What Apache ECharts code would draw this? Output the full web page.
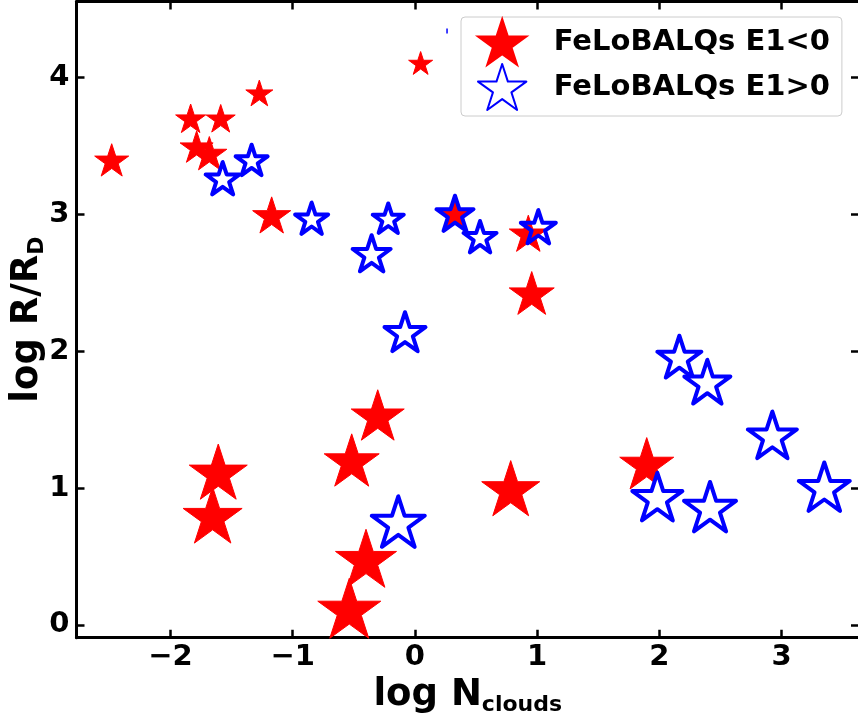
<!DOCTYPE html>
<html>
<head>
<meta charset="utf-8">
<script src="https://cdn.jsdelivr.net/npm/echarts@6/dist/echarts.min.js"></script>
<style>
html,body{margin:0;padding:0;background:#fff;}
#chart{width:858px;height:716px;}
</style>
</head>
<body>
<div id="chart"></div>
<script>
// ---- data ----
const redX = [-2.481, -1.835, -1.589, -1.273, 0.047, -1.786, -1.682, -1.172, 0.328, 0.928, 0.956, -1.609, -1.655, -0.517, -0.304, -0.400, -0.537, 0.784, 1.897];
const redY = [3.397, 3.701, 3.701, 3.886, 4.105, 3.494, 3.446, 2.995, 3.007, 2.861, 2.425, 1.120, 0.803, 1.205, 1.534, 0.487, 0.122, 0.999, 1.181];
const redMarkerWidth = [35, 31, 30, 28, 25, 34, 36, 39, 37, 39, 46, 59, 60, 56, 54, 62, 64, 59, 55];

const blueX = [-1.573, -1.336, -0.845, -0.218, -0.354, -0.081, 0.328, 0.533, 1.010, 2.164, 2.393, 2.925, 1.984, 2.415, 3.350, -0.136];
const blueY = [3.263, 3.397, 2.971, 2.971, 2.715, 2.142, 3.007, 2.836, 2.909, 1.960, 1.777, 1.388, 0.937, 0.864, 1.010, 0.755];
const blueMarkerWidth = [38, 36, 37, 35, 42, 45, 41, 37, 39, 48, 50, 53, 54, 56, 55, 57];
const blueOpenIdx = [6, 8];          // points drawn without white fill
const tinyBlueX = [0.263];
const tinyBlueY = [4.339];

const xTicks = [-2, -1, 0, 1, 2, 3];
const yTicks = [0, 1, 2, 3, 4];
const seriesNames = ['FeLoBALQs E1<0', 'FeLoBALQs E1>0'];

// ---- style ----
const STAR = 'path://M0,-100 L-22.45,-30.9 L-95.11,-30.9 L-36.33,11.8 L-58.78,80.9 L0,38.2 L58.78,80.9 L36.33,11.8 L95.11,-30.9 L22.45,-30.9 Z';
const FONT = 'DejaVu Sans';
const fmt = v => (v < 0 ? '\u2212' + Math.abs(v) : String(v));

const X_MIN = -2.769, X_MAX = 3.634, Y_MIN = -0.093, Y_MAX = 4.554;

const redData = redX.map((x, i) => ({ value: [x, redY[i]], symbolSize: redMarkerWidth[i] - 1 }));
const blueData = blueX.map((x, i) => {
  const d = { value: [x, blueY[i]], symbolSize: blueMarkerWidth[i] - 4 };
  if (blueOpenIdx.includes(i)) d.itemStyle = { color: 'rgba(0,0,0,0)' };
  return d;
});
tinyBlueX.forEach((x, i) => blueData.push({
  value: [x, tinyBlueY[i]], symbol: 'rect', symbolSize: [1.5, 5],
  itemStyle: { color: '#0000ff', borderWidth: 0 }
}));

const axisCommon = {
  axisLine: { show: true, onZero: false, lineStyle: { color: '#000', width: 3 } },
  axisTick: { show: true, inside: true, length: 8, lineStyle: { color: '#000', width: 2.5 } },
  splitLine: { show: false }
};
const titleRich = {
  a: { fontFamily: FONT, fontSize: 37, fontWeight: 'bold', color: '#000', verticalAlign: 'bottom', padding: [0, 0, 3, 0] },
  b: { fontFamily: FONT, fontSize: 22, fontWeight: 'bold', color: '#000', verticalAlign: 'bottom' }
};

const chart = echarts.init(document.getElementById('chart'), null, { renderer: 'canvas' });
chart.setOption({
  animation: false,
  backgroundColor: '#fff',
  grid: { left: 76.5, right: -1, top: 1.5, bottom: 78.3, containLabel: false, outerBoundsMode: 'none' },
  legend: {
    left: 461, top: 17,
    orient: 'vertical',
    data: seriesNames,
    itemWidth: 49, itemHeight: 46, itemGap: -3,
    symbolKeepAspect: true,
    padding: [1, 12, 5, 16],
    backgroundColor: 'rgba(255,255,255,0.8)',
    borderColor: '#cccccc', borderWidth: 1, borderRadius: 4,
    textStyle: { fontFamily: FONT, fontSize: 29, fontWeight: 'bold', color: '#000', padding: [0, 0, 0, 22] }
  },
  xAxis: [
    Object.assign({}, axisCommon, {
      type: 'value', position: 'bottom', min: X_MIN, max: X_MAX,
      axisTick: Object.assign({}, axisCommon.axisTick, { customValues: xTicks }),
      axisLabel: { show: true, customValues: xTicks, formatter: fmt, margin: 5,
        fontFamily: FONT, fontSize: 29, fontWeight: 'bold', color: '#000' },
      name: '{a|log N}{b|clouds}', nameLocation: 'middle', nameGap: 35,
      nameTextStyle: { fontFamily: FONT, color: '#000', rich: titleRich }
    }),
    Object.assign({}, axisCommon, {
      type: 'value', position: 'top', min: X_MIN, max: X_MAX,
      axisTick: Object.assign({}, axisCommon.axisTick, { customValues: xTicks }),
      axisLabel: { show: false }
    })
  ],
  yAxis: [
    Object.assign({}, axisCommon, {
      type: 'value', position: 'left', min: Y_MIN, max: Y_MAX,
      axisTick: Object.assign({}, axisCommon.axisTick, { customValues: yTicks }),
      axisLabel: { show: true, customValues: yTicks, formatter: fmt, margin: 7,
        fontFamily: FONT, fontSize: 29, fontWeight: 'bold', color: '#000' },
      name: '{a|log R/R}{b|D}', nameLocation: 'middle', nameGap: 28, nameMoveOverlap: false,
      nameTextStyle: { fontFamily: FONT, color: '#000', rich: titleRich }
    }),
    Object.assign({}, axisCommon, {
      type: 'value', position: 'right', min: Y_MIN, max: Y_MAX,
      axisTick: Object.assign({}, axisCommon.axisTick, { customValues: yTicks }),
      axisLabel: { show: false }
    })
  ],
  series: [
    {
      name: seriesNames[0], type: 'scatter', xAxisIndex: 0, yAxisIndex: 0,
      symbol: STAR, symbolKeepAspect: true,
      itemStyle: { color: '#ff0000', borderColor: '#ff0000', borderWidth: 1, opacity: 1 },
      emphasis: { disabled: true },
      data: redData, z: 2
    },
    {
      name: seriesNames[1], type: 'scatter', xAxisIndex: 0, yAxisIndex: 0,
      symbol: STAR, symbolKeepAspect: true,
      itemStyle: { color: '#ffffff', borderColor: '#0000ff', borderWidth: 4, borderJoin: 'round', opacity: 1 },
      emphasis: { disabled: true },
      data: blueData, z: 3
    }
  ]
});
</script>
</body>
</html>
